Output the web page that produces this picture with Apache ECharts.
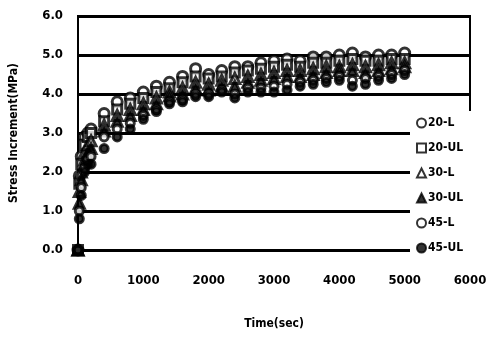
<!DOCTYPE html>
<html>
<head>
<meta charset="utf-8">
<script src="https://cdn.jsdelivr.net/npm/echarts@6/dist/echarts.min.js"></script>
<style>
  html, body { margin: 0; padding: 0; background: #fff; }
  #chart { width: 492px; height: 338px; }
</style>
</head>
<body>
<div id="chart"></div>
<script>
// time axis (sec)
const times = [0, 20, 50, 100, 150, 200, 400, 600, 800, 1000, 1200, 1400, 1600, 1800, 2000,
  2200, 2400, 2600, 2800, 3000, 3200, 3400, 3600, 3800, 4000, 4200, 4400, 4600, 4800, 5000];

// stress increment (MPa) per specimen
const s20L = [0, 1.9, 2.4, 2.9, 3.0, 3.1, 3.5, 3.8, 3.9, 4.05, 4.2, 4.3, 4.45, 4.65, 4.5,
  4.6, 4.7, 4.7, 4.8, 4.85, 4.9, 4.85, 4.95, 4.95, 5.0, 5.05, 4.95, 5.0, 5.0, 5.05];
const s20UL = [0, 1.7, 2.2, 2.7, 2.9, 3.0, 3.3, 3.6, 3.75, 3.9, 4.05, 4.15, 4.3, 4.45, 4.4,
  4.45, 4.55, 4.6, 4.65, 4.7, 4.75, 4.7, 4.8, 4.8, 4.85, 4.9, 4.85, 4.85, 4.9, 4.9];
const s30L = [0, 1.5, 2.0, 2.5, 2.7, 2.8, 3.2, 3.45, 3.6, 3.75, 3.9, 4.05, 4.15, 4.3, 4.25,
  4.35, 4.4, 4.45, 4.5, 4.55, 4.6, 4.6, 4.65, 4.7, 4.7, 4.75, 4.7, 4.75, 4.8, 4.8];
const s30UL = [0, 1.2, 1.8, 2.3, 2.5, 2.6, 3.05, 3.3, 3.45, 3.6, 3.75, 3.95, 4.0, 4.15, 4.1,
  4.2, 4.2, 4.3, 4.35, 4.4, 4.45, 4.45, 4.5, 4.55, 4.6, 4.6, 4.55, 4.6, 4.65, 4.7];
const s45L = [0, 1.0, 1.6, 2.1, 2.3, 2.4, 2.9, 3.1, 3.25, 3.45, 3.6, 3.8, 3.85, 4.0, 4.0,
  4.1, 4.0, 4.15, 4.15, 4.2, 4.25, 4.3, 4.35, 4.4, 4.45, 4.35, 4.4, 4.45, 4.5, 4.6];
const s45UL = [0, 0.8, 1.4, 2.0, 2.2, 2.2, 2.6, 2.9, 3.1, 3.35, 3.55, 3.75, 3.8, 3.93, 3.93,
  4.05, 3.9, 4.05, 4.05, 4.05, 4.1, 4.2, 4.25, 4.3, 4.35, 4.2, 4.25, 4.35, 4.4, 4.5];

const seriesNames = ['20-L', '20-UL', '30-L', '30-UL', '45-L', '45-UL'];
const seriesValues = [s20L, s20UL, s30L, s30UL, s45L, s45UL];

const font = '"Liberation Sans Narrow", "DejaVu Sans Condensed", "Liberation Sans", sans-serif';

// marker look per specimen (scan is very dark, so thick black outlines)
const markers = [
  { symbol: 'circle', fill: '#fff', size: 10 },
  { symbol: 'rect', fill: '#fff', size: 9 },
  { symbol: 'triangle', fill: '#fff', size: 10 },
  { symbol: 'triangle', fill: '#000', size: 10 },
  { symbol: 'circle', fill: '#fff', size: 8 },
  { symbol: 'circle', fill: '#000', size: 8 },
];

const chart = echarts.init(document.getElementById('chart'));

const option = {
  animation: false,
  backgroundColor: '#fff',
  grid: {
    left: 72,
    right: 22,
    top: 16,
    bottom: 88,
    show: true,
    borderColor: '#000',
    borderWidth: 2,
    backgroundColor: 'transparent',
  },
  // white legend box also hides the grid lines below 4.0 on the right
  legend: {
    orient: 'vertical',
    left: 410,
    top: 111,
    itemGap: 13,
    itemWidth: 9,
    itemHeight: 9,
    padding: [6, 30, 8, 6],
    backgroundColor: '#fff',
    z: 10,
    data: seriesNames,
    textStyle: {
      color: '#000',
      fontFamily: font,
      fontWeight: 'bold',
      fontSize: 12,
      padding: [0, 0, 0, -3],
    },
  },
  xAxis: {
    type: 'value',
    min: 0,
    max: 6000,
    interval: 1000,
    name: 'Time(sec)',
    nameLocation: 'middle',
    nameGap: 68,
    nameTextStyle: { color: '#000', fontFamily: font, fontWeight: 'bold', fontSize: 12 },
    axisLine: { show: false },
    axisTick: { show: false },
    splitLine: { show: false },
    axisLabel: {
      color: '#000',
      fontFamily: font,
      fontWeight: 'bold',
      fontSize: 13,
      margin: 24,
      formatter: (v) => String(v),
    },
  },
  yAxis: {
    type: 'value',
    min: 0,
    max: 6,
    interval: 1,
    name: 'Stress Increment(MPa)',
    nameLocation: 'middle',
    nameGap: 58,
    nameTextStyle: { color: '#000', fontFamily: font, fontWeight: 'bold', fontSize: 12 },
    axisLine: { show: true, lineStyle: { color: '#000', width: 2 } },
    axisTick: { show: false },
    axisLabel: {
      color: '#000',
      fontFamily: font,
      fontWeight: 'bold',
      fontSize: 13,
      margin: 15,
      formatter: (v) => v.toFixed(1),
    },
    splitLine: { show: true, lineStyle: { color: '#000', width: 3 } },
  },
  series: seriesNames.map((name, i) => ({
    name,
    type: 'scatter',
    symbol: markers[i].symbol,
    symbolSize: markers[i].size,
    data: times.map((t, j) => [t, seriesValues[i][j]]),
    itemStyle: {
      color: markers[i].fill,
      borderColor: '#000',
      borderWidth: 3,
    },
  })),
};

chart.setOption(option);
</script>
</body>
</html>
